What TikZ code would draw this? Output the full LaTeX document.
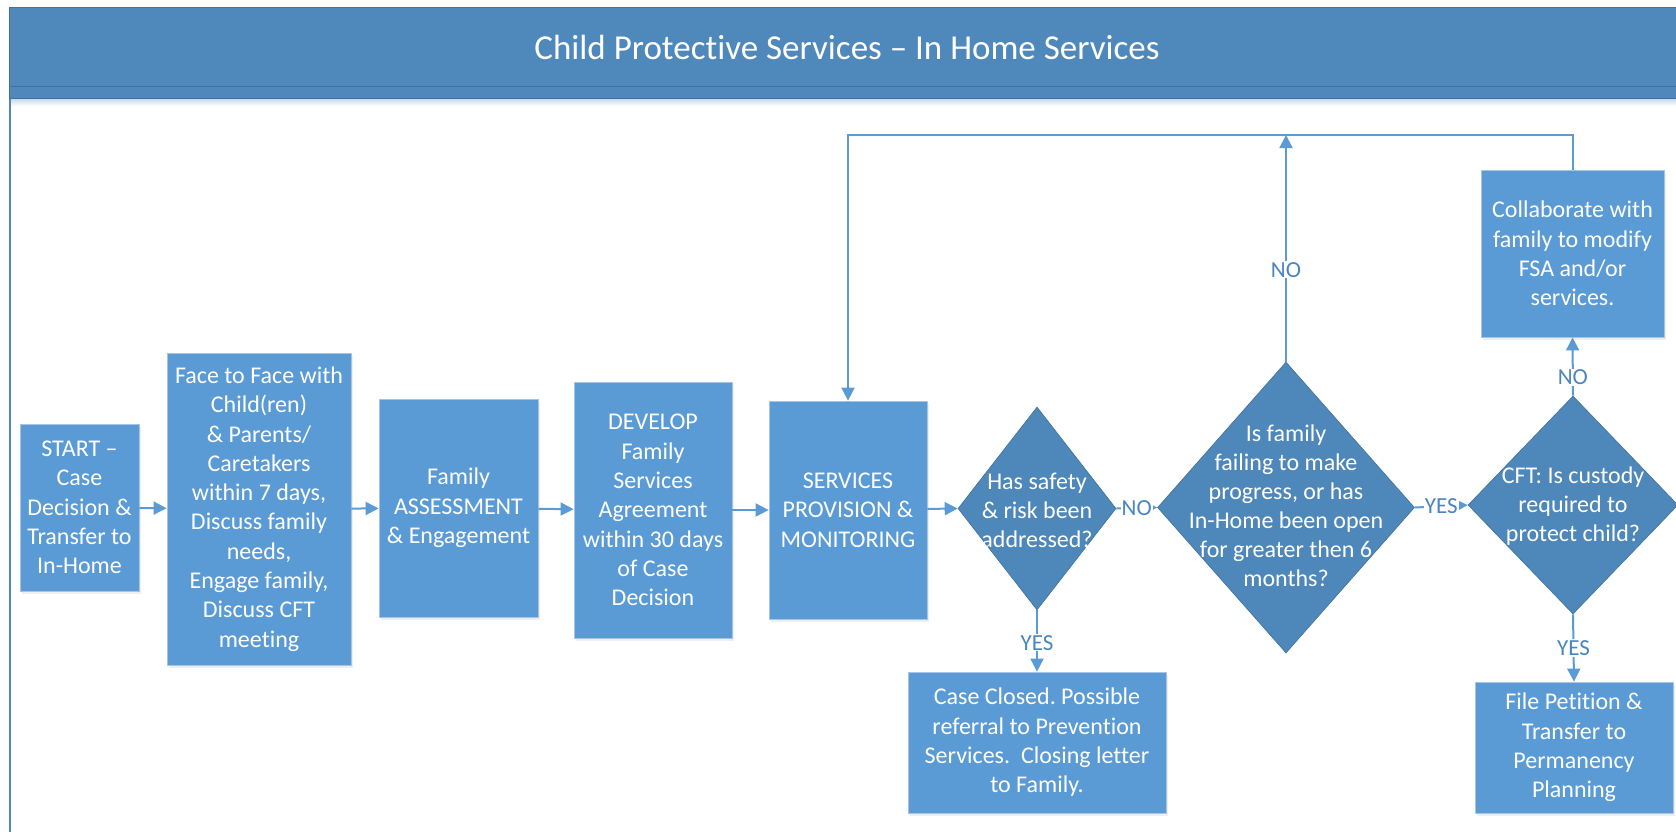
\documentclass[tikz,border=0pt]{standalone}
\usepackage{fontspec}
\setmainfont{Carlito}[Ligatures=NoCommon]
\usetikzlibrary{shapes.geometric,arrows.meta,shadows}
\definecolor{hdr}{HTML}{4F88BB}
\definecolor{hdrline}{HTML}{41719C}
\definecolor{boxfill}{HTML}{5B9BD5}
\definecolor{boxline}{HTML}{A7C4E2}
\definecolor{diafill}{HTML}{4E87B9}
\definecolor{lineblue}{HTML}{5B9BD5}
\definecolor{lbl}{HTML}{4A85C0}
\frenchspacing
\begin{document}
\begin{tikzpicture}[x=1pt,y=-1pt,
  proc/.style={rectangle, fill=boxfill, draw=boxline, line width=0.8pt, text=white, align=center,
    font=\fontsize{24}{29.3}\selectfont, inner sep=0pt,
    drop shadow={shadow xshift=2pt,shadow yshift=-3pt,opacity=0.12}},
  dia/.style={diamond, fill=diafill, draw=hdrline, line width=0.6pt, inner sep=0pt},
  dtext/.style={text=white, align=center, font=\fontsize{24}{29}\selectfont, inner sep=0pt},
  link/.style={draw=lineblue, line width=2pt, -{Triangle[length=13pt,width=13pt]}},
  lab/.style={fill=white, text=lbl, font=\fontsize{23}{28}\selectfont, inner sep=1pt},
]
\useasboundingbox (0,0) rectangle (1676,831);
\fill[white] (0,0) rectangle (1676,831);
% frame and header
\shade[top color=hdr!35, bottom color=white] (10,98) rectangle (1690,106);
\draw[hdr, line width=2.5pt] (10,98) -- (10,840);
\filldraw[fill=hdr, draw=hdrline, line width=1pt] (9,7) rectangle (1690,86);
\filldraw[fill=hdr, draw=hdrline, line width=1pt] (9,86) rectangle (1690,98);
\node[text=white, font=\fontsize{35}{40}\selectfont, inner sep=0pt] (title) at (847,47) {Child Protective Services – In Home Services};

% process boxes
\node[proc, minimum width=119pt, minimum height=167pt] (start) at (79.5,507.5) {START –\\Case\\Decision \&\\Transfer to\\In-Home};
\node[proc, minimum width=184pt, minimum height=312pt] (face) at (259,509) {Face to Face with\\Child(ren)\\\& Parents/\\Caretakers\\within 7 days,\\Discuss family\\needs,\\Engage family,\\Discuss CFT\\meeting};
\node[proc, minimum width=159pt, minimum height=218pt] (assess) at (458.5,508) {Family\\ASSESSMENT\\\& Engagement};
\node[proc, minimum width=158pt, minimum height=256pt] (develop) at (653,510) {DEVELOP\\Family\\Services\\Agreement\\within 30 days\\of Case\\Decision};
\node[proc, minimum width=158pt, minimum height=218pt] (serv) at (848,510) {SERVICES\\PROVISION \&\\MONITORING};
\node[proc, minimum width=258pt, minimum height=141pt] (closed) at (1037,742.5) {Case Closed. Possible\\referral to Prevention\\Services.\ \ Closing letter\\to Family.};
\node[proc, minimum width=198pt, minimum height=131pt] (petition) at (1574,747.5) {File Petition \&\\Transfer to\\Permanency\\Planning};
\node[proc, minimum width=183pt, minimum height=167pt] (collab) at (1572.5,253.5) {Collaborate with\\family to modify\\FSA and/or\\services.};

% decisions
\node[dia, minimum width=158pt, minimum height=203pt] (d1) at (1037,508.5) {};
\node[dtext] (d1t) at (1037,510) {Has safety\\\& risk been\\addressed?};
\node[dia, minimum width=257pt, minimum height=291pt] (d2) at (1286,507.5) {};
\node[dtext] (d2t) at (1286,506) {Is family\\failing to make\\progress, or has\\In-Home been open\\for greater then 6\\months?};
\node[dia, minimum width=210pt, minimum height=218pt] (d3) at (1573,505) {};
\node[dtext] (d3t) at (1573,506) {CFT: Is custody\\required to\\protect child?};

% connectors
\draw[link] (start) -- (face);
\draw[link] (face) -- (assess);
\draw[link] (assess) -- (develop);
\draw[link] (develop) -- (serv);
\draw[link] (serv) -- (d1.west);
\draw[link] (d1.east) -- node[lab] (no1) {NO} (d2.west);
\draw[link] (d2.east) -- node[lab] (yes2) {YES} (d3.west);
\draw[link] (d1.south) -- node[lab, pos=0.53] (yes1) {YES} (closed.north);
\draw[link] (d3.south) -- node[lab, pos=0.5] (yes3) {YES} (petition.north);
\draw[link] (d3.north) -- node[lab, pos=0.32] (no3) {NO} (collab.south);
\coordinate (looptop) at (1286,135);
\draw[link] (d2.north) -- node[lab, pos=0.405] (no2) {NO} (looptop);
\draw[link] (collab.north) -- ++(0,-35) -| (serv.north);
\end{tikzpicture}
\end{document}
